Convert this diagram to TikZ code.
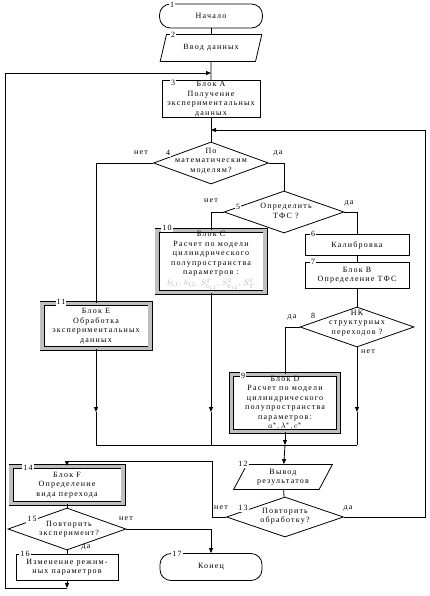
\documentclass[tikz,border=0pt]{standalone}
\usepackage{fontspec}
\newfontfamily\blockfont[LetterSpace=15]{Liberation Serif}
\usetikzlibrary{shapes.geometric, arrows.meta}

\begin{document}
\begin{tikzpicture}[
    x=1pt, y=-1pt,
    line width=0.8pt,
    font=\blockfont\fontsize{8}{9.5}\selectfont,
    term/.style={draw, rectangle, rounded corners=11pt, inner sep=1pt},
    io/.style={draw, trapezium, trapezium left angle=60, trapezium right angle=120, trapezium stretches=true, align=center, inner sep=0pt},
    proc/.style={draw, rectangle, align=center, inner sep=1pt},
    framed/.style={draw=black, rectangle, align=center, line width=0.9pt, double=gray!50, double distance=3.2pt, fill=white, inner sep=1pt},
    decision/.style={draw, diamond, inner sep=0pt},
    txt/.style={align=center, inner sep=0pt},
    num/.style={fill=white, inner sep=1pt},
    lbl/.style={inner sep=0pt},
    arrow/.style={-{Triangle[length=5pt, width=4pt]}}
]
\useasboundingbox (0,0) rectangle (430,596);

% Start and input
\node[term, minimum width=103, minimum height=24] (n1) at (211,16) {Начало};
\node[num] (l1) at (172,5) {1};
\node[io, minimum width=102, minimum height=27] (n2) at (211,48) {Ввод данных};
\node[num] (l2) at (173,35) {2};

% Block A
\node[proc, minimum width=98, minimum height=32] (n3) at (211,99) {Блок А\\Получение\\экспериментальных\\данных};
\node[num] (l3) at (173,83) {3};
\coordinate (j1) at (211,73);
\coordinate (j2) at (211,130);

% Decision 4
\node[decision, minimum width=115, minimum height=42] (d4) at (211,163) {};
\node[txt] (t4) at (211,161) {По\\математическим\\моделям?};
\node[num] (l4) at (168,153) {4};
\node[lbl] (no4) at (141,153) {нет};
\node[lbl] (yes4) at (278,153) {да};

% Decision 5
\node[decision, minimum width=120, minimum height=42] (d5) at (284,212) {};
\node[txt] (t5) at (286,211) {Определить\\ТФС ?};
\node[num] (l5) at (238,207) {5};
\node[lbl] (no5) at (211,201) {нет};
\node[lbl] (yes5) at (349,203) {да};

% Block C
\node[framed, minimum width=108, minimum height=62] (n10) at (211,261.5) {};
\node[txt] (t10) at (211,254) {Блок C\\Расчет по модели\\цилиндрического\\полупространства\\параметров :};
\node[txt, text=gray!55] (f10) at (211,284.5) {$b_{11},\, b_{12},\, S^2_{b_{11}},\, S^2_{b_{12}},\, S^2_T$};
\node[num] (l10) at (167,228) {10};

% Calibration and block B
\node[proc, minimum width=104, minimum height=21] (n6) at (357,245) {Калибровка};
\node[num] (l6) at (313,234) {6};
\node[proc, minimum width=104, minimum height=26] (n7) at (357,275) {Блок B\\Определение ТФС};
\node[num] (l7) at (313,262) {7};

% Decision 8
\node[decision, minimum width=114, minimum height=40] (d8) at (357,327) {};
\node[txt] (t8) at (357,323) {НК\\структурных\\переходов ?};
\node[num] (l8) at (313,316) {8};
\node[lbl] (yes8) at (292,317) {да};
\node[lbl] (no8) at (368,352) {нет};

% Block D
\node[framed, minimum width=107, minimum height=57] (n9) at (285,403) {Блок D\\Расчет по модели\\цилиндрического\\полупространства\\параметров:\\$a^*, \lambda^*, c^*$};
\node[num] (l9) at (243,376) {9};

% Block E
\node[framed, minimum width=108, minimum height=45] (n11) at (96,326) {Блок E\\Обработка\\экспериментальных\\данных};
\node[num] (l11) at (61,302) {11};

% Junction
\coordinate (a11) at (96,412);
\coordinate (b11) at (96,445);
\coordinate (a10) at (211,412);
\coordinate (b10) at (211,445);
\coordinate (a8) at (357,412);
\coordinate (b8) at (357,445);
\coordinate (j3) at (285,445);

% Output and decision 13
\node[io, minimum width=99, minimum height=25] (n12) at (283,477) {Вывод\\результатов};
\node[num] (l12) at (243,464) {12};
\node[decision, minimum width=117, minimum height=40] (d13) at (285,517) {};
\node[txt] (t13) at (285,516) {Повторить\\обработку?};
\node[num] (l13) at (243,508) {13};
\node[lbl] (no13) at (221,508) {нет};
\node[lbl] (yes13) at (348,508) {да};

% Block F, decision 15, block 16, end
\node[framed, minimum width=112, minimum height=37] (n14) at (67,485) {Блок F\\Определение\\вида перехода};
\node[num] (l14) at (28,468) {14};
\node[decision, minimum width=118, minimum height=42] (d15) at (67,529) {};
\node[txt] (t15) at (69,529) {Повторить\\эксперимент?};
\node[num] (l15) at (32,519) {15};
\node[lbl] (no15) at (126,519) {нет};
\node[lbl] (yes15) at (86,547) {да};
\node[proc, minimum width=102, minimum height=26] (n16) at (67,567) {Изменение режим-\\ных параметров};
\node[num] (l16) at (25,554) {16};
\node[term, minimum width=102, minimum height=27] (n17) at (211,567) {Конец};
\node[num] (l17) at (177,554) {17};

\coordinate (c13) at (212,461);
\coordinate (c2) at (425,130);
\coordinate (c16) at (67,588);
\coordinate (c0) at (5,588);

% Connectors
\draw (n1) -- (n2);
\draw (n2) -- (n3);
\draw (n3) -- (d4);
\draw (d4.west) -| (n11.north);
\draw (d4.east) -| (d5.north);
\draw (d5.west) -| (n10.north);
\draw (d5.east) -| (n6.north);
\draw (n6) -- (n7);
\draw (n7) -- (d8);
\draw (d8.west) -| (n9.north);
\draw[arrow] (n11) -- (a11);
\draw (a11) -- (b11);
\draw[arrow] (n10) -- (a10);
\draw (a10) -- (b10);
\draw[arrow] (d8) -- (a8);
\draw (a8) -- (b8);
\draw (b11) -- (b8);
\draw[arrow] (n9) -- (j3);
\draw[arrow] (j3) -- (n12);
\draw (n12) -- (d13);
\draw[arrow] (d13.west) -| (c13) -| (n14.north);
\draw[arrow] (d13.east) -| (c2) -- (j2);
\draw (n14) -- (d15);
\draw[arrow] (d15.east) -| (n17.north);
\draw (d15) -- (n16);
\draw[arrow] (n16) -- (c16);
\draw[arrow] (c16) -- (c0) |- (j1);
\end{tikzpicture}
\end{document}
